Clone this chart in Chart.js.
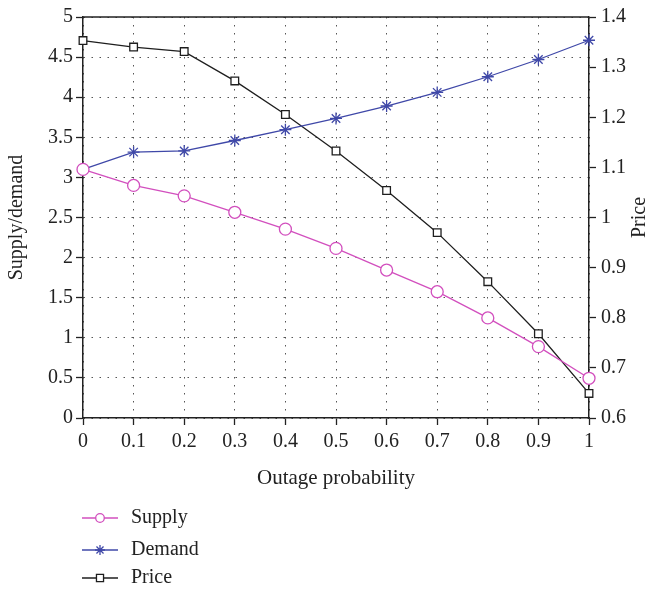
<!DOCTYPE html>
<html>
<head>
<meta charset="utf-8">
<script src="https://cdn.jsdelivr.net/npm/chart.js@4.4.1/dist/chart.umd.min.js"></script>
<style>
  html, body { margin: 0; padding: 0; background: #fff; }
  #wrap { width: 653px; height: 594px; }
</style>
</head>
<body>
<div id="wrap"><canvas id="chart" width="653" height="594"></canvas></div>
<script>
// values
const outage = [0, 0.1, 0.2, 0.3, 0.4, 0.5, 0.6, 0.7, 0.8, 0.9, 1];
const supply = [3.1, 2.9, 2.77, 2.565, 2.355, 2.115, 1.845, 1.575, 1.248, 0.89, 0.495];
const demand = [3.1, 3.315, 3.33, 3.46, 3.595, 3.735, 3.89, 4.06, 4.255, 4.47, 4.71];
const price = [1.353, 1.340, 1.331, 1.2725, 1.2055, 1.1326, 1.0538, 0.9698, 0.872, 0.768, 0.649];

const FONT = 'Liberation Serif, DejaVu Serif, serif';
const TEXT = '#222';
const pts = ys => ys.map((y, i) => ({ x: outage[i], y: y }));
const fmt = v => String(Number(v.toFixed(2)));

const series = [
    { label: 'Supply', data: pts(supply), yAxisID: 'y', color: '#d24fbe', style: 'circle', r: 6, lr: 4.3 },
    { label: 'Demand', data: pts(demand), yAxisID: 'y', color: '#3f48a8', style: 'star', r: 6, lr: 5 },
    { label: 'Price', data: pts(price), yAxisID: 'y1', color: '#1e1e1e', style: 'rect', r: 5.4, lr: 5 }
];

// box around the plot + rotated right title + legend under the plot
const extras = {
    id: 'extras',
    afterDraw(chart) {
        const ctx = chart.ctx;
        const a = chart.chartArea;
        ctx.save();
        ctx.strokeStyle = '#222';
        ctx.lineWidth = 1.5;
        ctx.beginPath();
        ctx.moveTo(a.left, a.top);
        ctx.lineTo(a.right, a.top);
        ctx.stroke();

        ctx.fillStyle = TEXT;
        ctx.font = '20px ' + FONT;
        ctx.textAlign = 'center';
        ctx.textBaseline = 'middle';
        ctx.translate(640, (a.top + a.bottom) / 2);
        ctx.rotate(-Math.PI / 2);
        ctx.fillText('Price', 0, 0);
        ctx.restore();

        const rows = [518, 550, 578];
        series.forEach((s, i) => {
            const y = rows[i];
            ctx.save();
            ctx.strokeStyle = s.color;
            ctx.lineWidth = 1.3;
            ctx.beginPath();
            ctx.moveTo(82, y);
            ctx.lineTo(118, y);
            ctx.stroke();
            ctx.fillStyle = '#fff';
            Chart.helpers.drawPoint(ctx, { pointStyle: s.style, radius: s.lr, rotation: 0, borderWidth: 1.3 }, 100, y);
            ctx.fillStyle = TEXT;
            ctx.font = '20px ' + FONT;
            ctx.textAlign = 'left';
            ctx.textBaseline = 'middle';
            ctx.fillText(s.label, 131, y);
            ctx.restore();
        });
    }
};

const gridDots = { color: '#555', lineWidth: 1, tickLength: 7, tickColor: '#222', tickWidth: 1.3, tickBorderDash: [] };

new Chart(document.getElementById('chart'), {
    type: 'line',
    data: {
        datasets: series.map(s => ({
            label: s.label,
            data: s.data,
            yAxisID: s.yAxisID,
            borderColor: s.color,
            borderWidth: 1.3,
            pointStyle: s.style,
            pointRadius: s.r,
            pointBorderColor: s.color,
            pointBackgroundColor: '#fff',
            pointBorderWidth: 1.3,
            tension: 0,
            fill: false,
            clip: false
        }))
    },
    options: {
        responsive: false,
        animation: false,
        layout: { padding: { top: 12, bottom: 96, left: 0, right: 0 } },
        plugins: { legend: { display: false }, tooltip: { enabled: false } },
        scales: {
            x: {
                type: 'linear',
                min: 0, max: 1,
                grid: gridDots,
                border: { display: true, color: '#222', width: 1.5, dash: [1.5, 6.5] },
                ticks: { stepSize: 0.1, maxRotation: 0, autoSkip: false, padding: 5, color: TEXT, font: { family: FONT, size: 20 }, callback: v => fmt(v) },
                title: { display: true, text: 'Outage probability', color: TEXT, font: { family: FONT, size: 21 }, padding: { top: 0, bottom: 7 } },
                afterFit: s => { s.height = 80; }
            },
            y: {
                position: 'left',
                min: 0, max: 5,
                grid: gridDots,
                border: { display: true, color: '#222', width: 1.5, dash: [1.5, 6.5] },
                ticks: { stepSize: 0.5, padding: 3, color: TEXT, font: { family: FONT, size: 20 }, callback: v => fmt(v) },
                title: { display: true, text: 'Supply/demand', color: TEXT, font: { family: FONT, size: 20 }, padding: { top: 5, bottom: 0 } },
                afterFit: s => { s.width = 83; }
            },
            y1: {
                position: 'right',
                min: 0.6, max: 1.4,
                grid: Object.assign({}, gridDots, { drawOnChartArea: false }),
                border: { display: true, color: '#222', width: 1.5 },
                ticks: { stepSize: 0.1, padding: 5, color: TEXT, font: { family: FONT, size: 20 }, callback: v => fmt(v) },
                afterFit: s => { s.width = 64; }
            }
        }
    },
    plugins: [extras]
});
</script>
</body>
</html>
